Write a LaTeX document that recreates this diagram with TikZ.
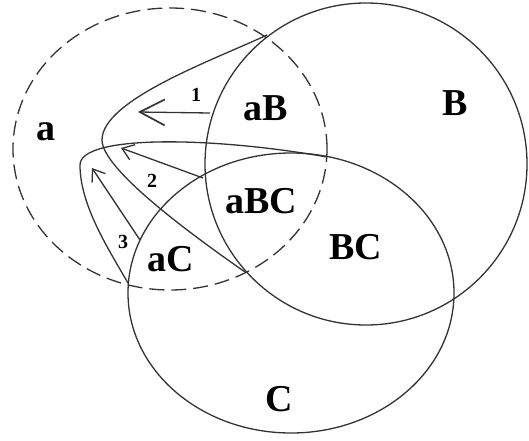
\documentclass[tikz,border=0pt]{standalone}
\usepackage{fontspec}
\setmainfont{Liberation Serif}
\usetikzlibrary{arrows.meta}

\begin{document}
\begin{tikzpicture}[x=1pt,y=1pt,line width=1.3pt,color=black!80,
  set/.style={font=\fontsize{38}{40}\selectfont\bfseries,text=black,inner sep=0pt,anchor=base},
  num/.style={font=\fontsize{20}{22}\selectfont\bfseries,text=black,inner sep=0pt,anchor=base},
  headbig/.style={-{Straight Barb[length=25pt,width=26pt,line width=1.7pt]}},
  headsmall/.style={-{Straight Barb[length=11pt,width=16pt]}}]
\useasboundingbox (0,0) rectangle (529,440);
% the three sets
\draw[dash pattern=on 15pt off 7pt] (170,291) ellipse [x radius=157,y radius=141];
\draw (366,276) circle [radius=161];
\draw (291,147) ellipse [x radius=163,y radius=140];
% where the boundaries cross
\coordinate (aBtop) at (267,405); \coordinate (aBbot) at (245,168);
\coordinate (aCright) at (327,283); \coordinate (aCleft) at (128,157);
\coordinate (l1) at (102,300); \coordinate (l2) at (80,275);
% stretched boundaries
\draw (aBtop) .. controls +(205:60) and +(90:40) .. (l1) .. controls +(-90:30) and +(145:60) .. (aBbot);
\draw (aCright) .. controls +(170:120) and +(90:30) .. (l2) .. controls +(-90:40) and +(120:40) .. (aCleft);
% moves
\coordinate (t1) at (210,327); \coordinate (h1) at (138,328);
\coordinate (t2) at (203,262); \coordinate (h2) at (121,292);
\coordinate (t3) at (140,200); \coordinate (h3) at (92,272);
\draw[headbig] (t1) -- (h1);
\draw[headsmall] (t2) -- (h2);
\draw[headsmall] (t3) -- (h3);
\node[num] (n1) at (196,338) {1};
\node[num] (n2) at (152,253) {2};
\node[num] (n3) at (123,192) {3};
% regions
\node[set] (a) at (46,300) {a};
\node[set] (aB) at (266,320) {aB};
\node[set] (B) at (455,325) {B};
\node[set] (aBC) at (261,227) {aBC};
\node[set] (BC) at (356,181) {BC};
\node[set] (aC) at (171,169) {aC};
\node[set] (C) at (279,29) {C};
\end{tikzpicture}
\end{document}
